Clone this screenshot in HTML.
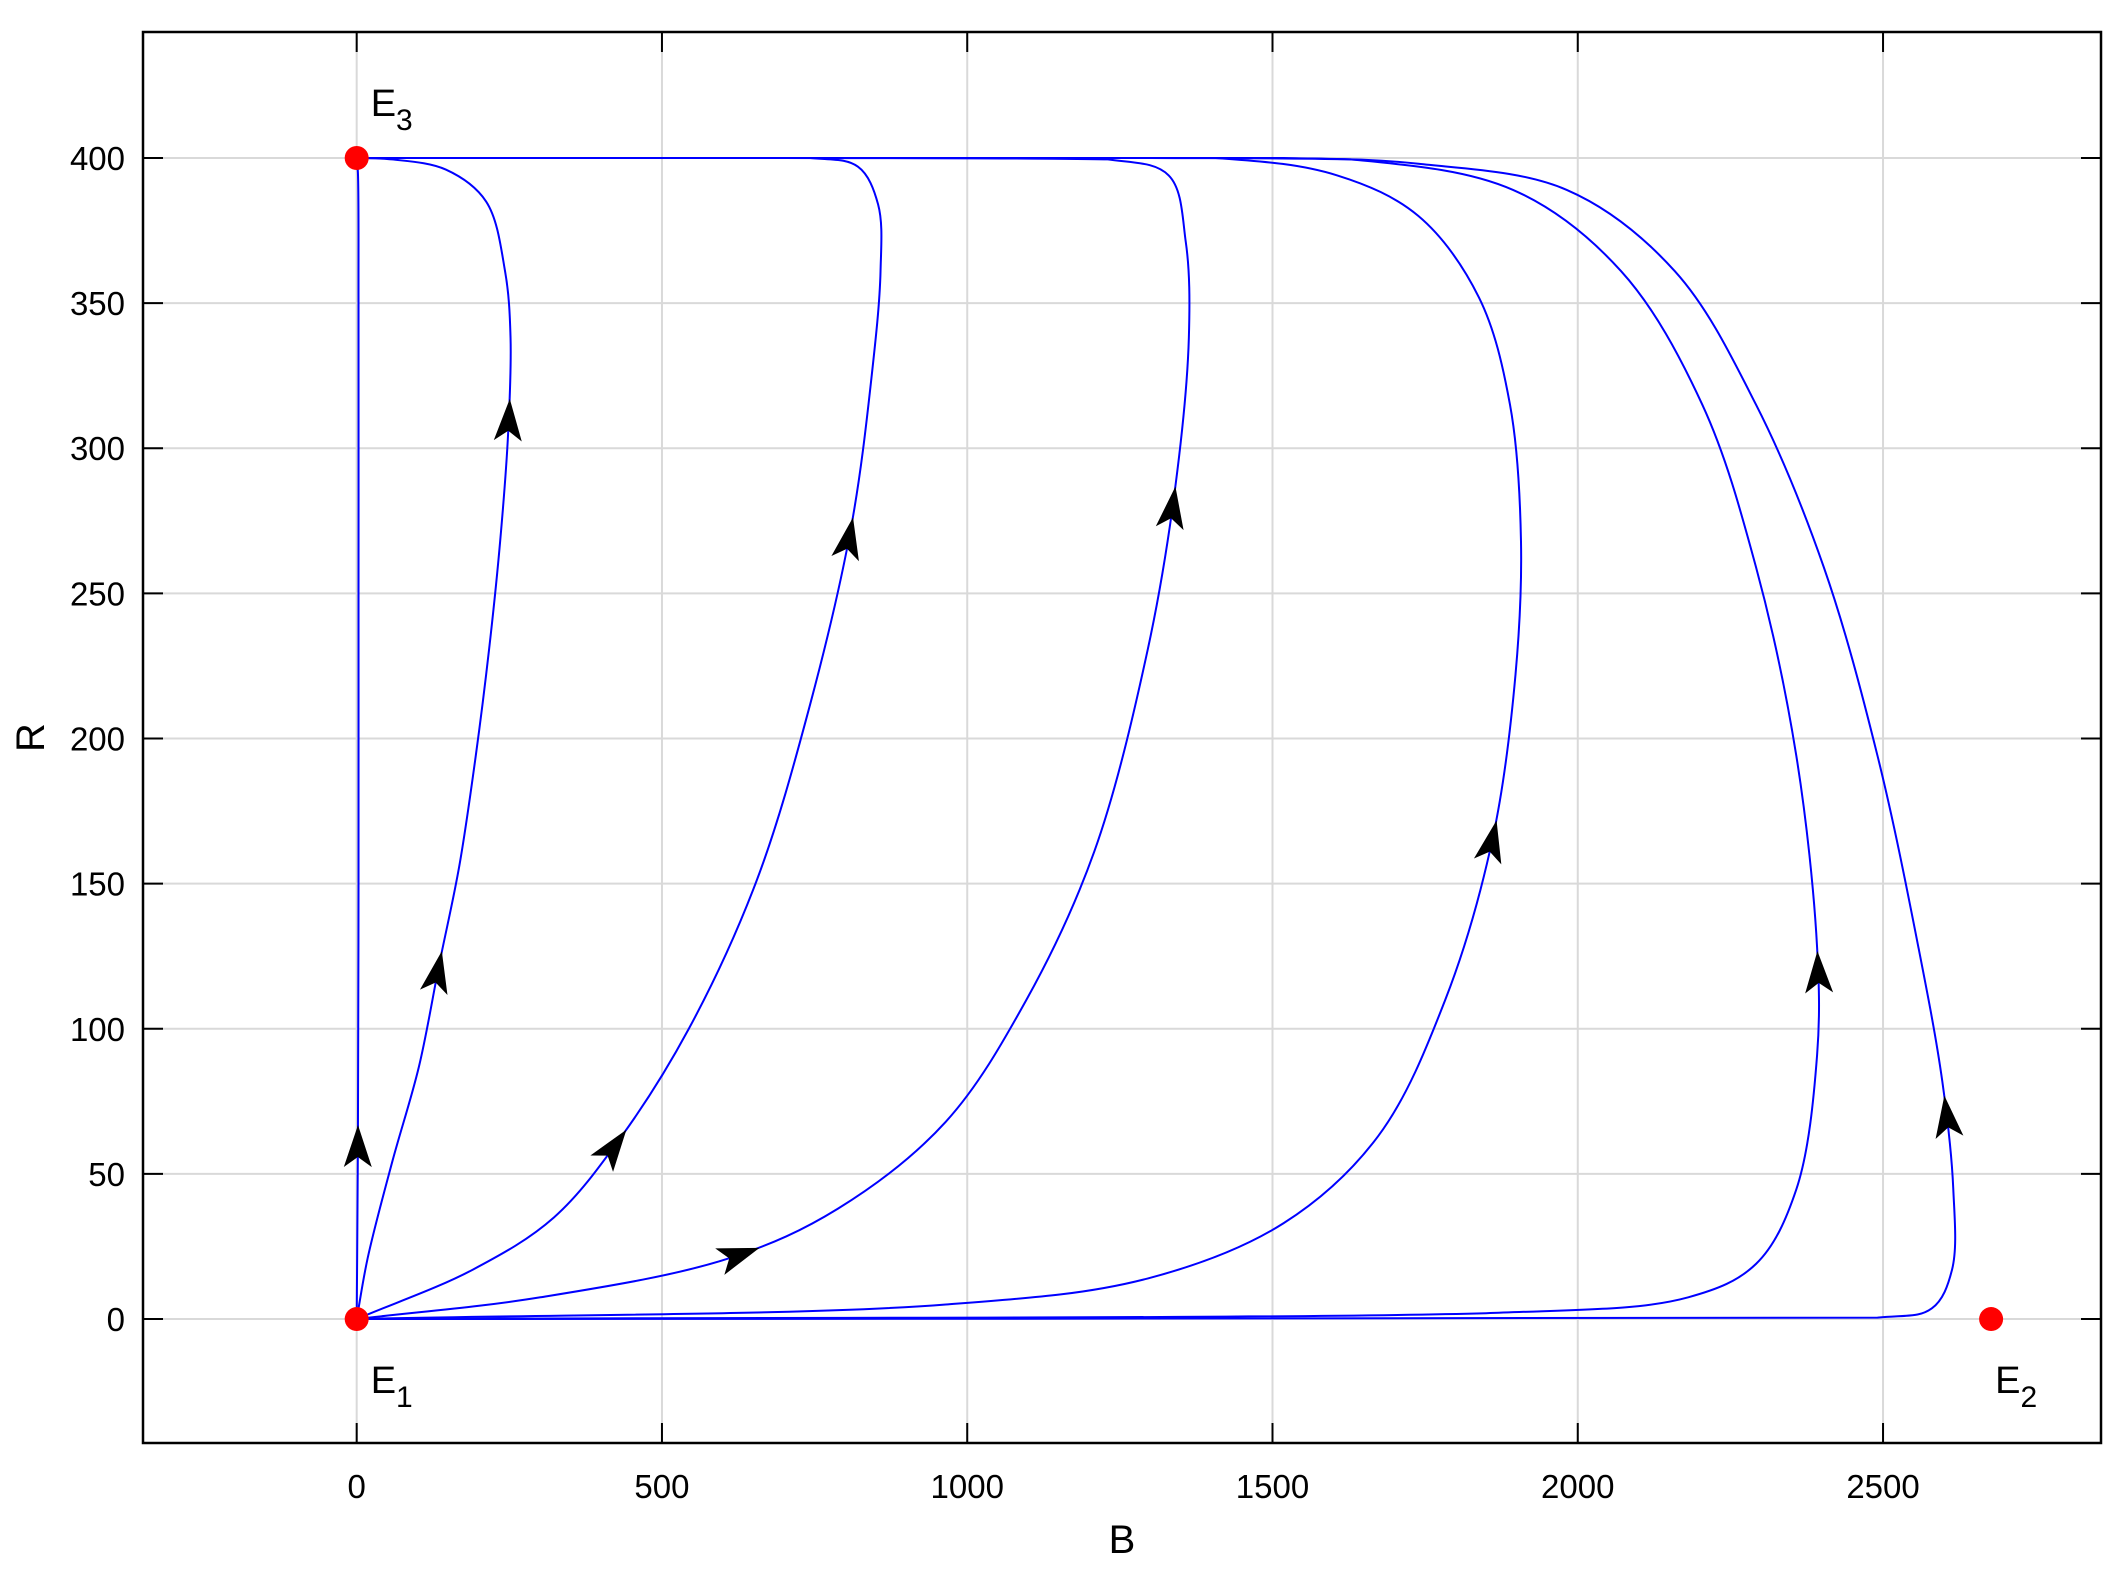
<!DOCTYPE html>
<html><head><meta charset="utf-8"><style>
html,body{margin:0;padding:0;background:#fff}
svg{display:block}
text{font-family:"Liberation Sans",Arial,sans-serif;fill:#000}
</style></head><body>
<svg id="chart" width="2119" height="1571" viewBox="0 0 2119 1571" xmlns="http://www.w3.org/2000/svg">
<g id="grid"></g>
<g id="curves"></g>
<g id="arrows"></g>
<g id="points"></g>
<g id="axes"></g>
</svg>
<script>
const xTicks=[0,500,1000,1500,2000,2500];
const yTicks=[0,50,100,150,200,250,300,350,400];
const traj1B=[0,2,3,3,3,2,0];
const traj1R=[0,60,150,250,350,395,400];
const traj2B=[0,18,58,102,135,168,195,217,235,248,252,243,212,146,58,0];
const traj2R=[0,21,54,87,122,156,194,231,268,305,338,361,385,396,399.5,400];
const traj3B=[0,190,323,434,544,655,743,810,843,858,854,821,743,400,0];
const traj3R=[0,17,35,63,100,151,212,273,324,361,384,397,400,400,400];
const traj4B=[0,301,611,788,965,1097,1208,1296,1341,1363,1358,1330,1230,700,0];
const traj4R=[0,7.5,21,38,68,110,161,231,287,338,371,394,399.5,400,400];
const traj5B=[0,965,1296,1518,1673,1783,1861,1898,1907,1889,1838,1739,1606,1407,800,0];
const traj5R=[0,5,14,33,63,110,166,222,268,315,352,380,394,400,400,400];
const traj6B=[0,1850,2181,2292,2358,2392,2392,2358,2292,2204,2071,1894,1628,1300,0];
const traj6R=[0,2,7.5,19,44.7,91,128,194,259,315,361,389,399.5,400,400];
const traj7B=[0,2491,2580,2613,2615,2597,2558,2491,2403,2292,2159,1982,1739,1518,1000,0];
const traj7R=[0,0.5,3.7,17,45,82,128,194,259,315,361,389,398,400,400,400];
const arrowTraj=[1,2,2,3,3,4,4,5,6,7];
const arrowB=[3,130,252,420,790,630,1340,1860,2392,2600];
const arrowR=[60,120,310,60,270,22,280,165,120,70];
const eqNames=["E1","E2","E3"];
const eqB=[0,2677,0];
const eqR=[0,0,400];

const L=143,Rt=2101,T=32,Bt=1443;
const xmin=-350,xmax=2857,ymin=-42.7,ymax=443.4;
const X=v=>L+(v-xmin)/(xmax-xmin)*(Rt-L);
const Y=v=>Bt-(v-ymin)/(ymax-ymin)*(Bt-T);
const NS="http://www.w3.org/2000/svg";
function mk(tag,parent,attrs){const e=document.createElementNS(NS,tag);for(const k in attrs)e.setAttribute(k,attrs[k]);parent.appendChild(e);return e;}
const grid=document.getElementById('grid'),axes=document.getElementById('axes');
mk('rect',grid,{x:L,y:T,width:Rt-L,height:Bt-T,fill:'#fff'});
xTicks.forEach(t=>{
 const g=mk('line',grid,{x1:X(t),x2:X(t),y1:T,y2:Bt,stroke:'#d9d9d9','stroke-width':2});
 
 mk('line',axes,{x1:X(t),x2:X(t),y1:Bt,y2:Bt-20,stroke:'#000','stroke-width':2});
 mk('line',axes,{x1:X(t),x2:X(t),y1:T,y2:T+20,stroke:'#000','stroke-width':2});
 const tx=mk('text',axes,{x:X(t),y:Bt+55,'font-size':33,'text-anchor':'middle'});tx.textContent=t;
 
});
yTicks.forEach(t=>{
 const g=mk('line',grid,{x1:L,x2:Rt,y1:Y(t),y2:Y(t),stroke:'#d9d9d9','stroke-width':2});
 
 mk('line',axes,{x1:L,x2:L+20,y1:Y(t),y2:Y(t),stroke:'#000','stroke-width':2});
 mk('line',axes,{x1:Rt,x2:Rt-20,y1:Y(t),y2:Y(t),stroke:'#000','stroke-width':2});
 const tx=mk('text',axes,{x:L-18,y:Y(t)+12,'font-size':33,'text-anchor':'end'});tx.textContent=t;
 
});
const fr=mk('rect',axes,{x:L,y:T,width:Rt-L,height:Bt-T,fill:'none',stroke:'#000','stroke-width':2.5});

const xl=mk('text',axes,{x:(L+Rt)/2,y:1553,'font-size':40,'text-anchor':'middle'});xl.textContent='B';

const yl=mk('text',axes,{x:44,y:(T+Bt)/2,'font-size':40,'text-anchor':'middle',transform:`rotate(-90 44 ${(T+Bt)/2})`});yl.textContent='R';


const trajs=[[traj1B,traj1R],[traj2B,traj2R],[traj3B,traj3R],[traj4B,traj4R],[traj5B,traj5R],[traj6B,traj6R],[traj7B,traj7R]];
const curves=document.getElementById('curves');
function pathOf(bs,rs){
 const p=bs.map((b,i)=>[X(b),Y(rs[i])]);
 const n=p.length;
 const yTop=Y(Math.max(...rs)),yBot=Y(Math.min(...rs));
 const cl=v=>Math.min(Math.max(v,yTop),yBot);
 const get=i=>{
  if(i<0)return [2*p[0][0]-p[1][0],2*p[0][1]-p[1][1]];
  if(i>=n)return [2*p[n-1][0]-p[n-2][0],2*p[n-1][1]-p[n-2][1]];
  return p[i];
 };
 const dist=(a,b)=>Math.max(Math.pow(Math.hypot(a[0]-b[0],a[1]-b[1]),0.5),1e-4);
 let d=`M${p[0][0]},${p[0][1]}`;
 for(let i=0;i<n-1;i++){
  const p0=get(i-1),p1=p[i],p2=p[i+1],p3=get(i+2);
  const d1=dist(p0,p1),d2=dist(p1,p2),d3=dist(p2,p3);
  const c1=[0,1].map(k=>(d1*d1*p2[k]-d2*d2*p0[k]+(2*d1*d1+3*d1*d2+d2*d2)*p1[k])/(3*d1*(d1+d2)));
  const c2=[0,1].map(k=>(d3*d3*p1[k]-d2*d2*p3[k]+(2*d3*d3+3*d3*d2+d2*d2)*p2[k])/(3*d3*(d3+d2)));
  d+=`C${c1[0]},${cl(c1[1])} ${c2[0]},${cl(c2[1])} ${p2[0]},${p2[1]}`;
 }
 return d;
}
const pathEls=trajs.map((t,i)=>{
 const e=mk('path',curves,{d:pathOf(t[0],t[1]),fill:'none',stroke:'#0000ff','stroke-width':2});
 
 
 return e;
});
const arrows=document.getElementById('arrows');
arrowB.forEach((b,i)=>{
 const pe=pathEls[arrowTraj[i]-1];const tx=X(b),ty=Y(arrowR[i]);
 const len=pe.getTotalLength();let best=0,bd=1e18;
 for(let s=0;s<=len;s+=1){const q=pe.getPointAtLength(s);const dd=(q.x-tx)**2+(q.y-ty)**2;if(dd<bd){bd=dd;best=s;}}
 const a=pe.getPointAtLength(Math.max(best-3,0)),c=pe.getPointAtLength(Math.min(best+3,len));
 const ang=Math.atan2(c.y-a.y,c.x-a.x)*180/Math.PI;
 const q=pe.getPointAtLength(best);
 const e=mk('path',arrows,{d:'M20,0 L-22,-14 L-12,0 L-22,14 Z',fill:'#000',transform:`translate(${q.x},${q.y}) rotate(${ang})`});
 
 
});
const pts=document.getElementById('points');
const labOff=[[14,74],[4,74],[14,-42]];
eqB.forEach((b,i)=>{
 const c=mk('circle',pts,{cx:X(b),cy:Y(eqR[i]),r:12,fill:'#ff0000'});
 
 
 const t=mk('text',pts,{x:X(b)+labOff[i][0],y:Y(eqR[i])+labOff[i][1],'font-size':38});
 
 
 t.appendChild(document.createTextNode('E'));
 const s=mk('tspan',t,{dy:14,'font-size':30});s.textContent=eqNames[i].slice(1);
});
</script>
</body></html>
